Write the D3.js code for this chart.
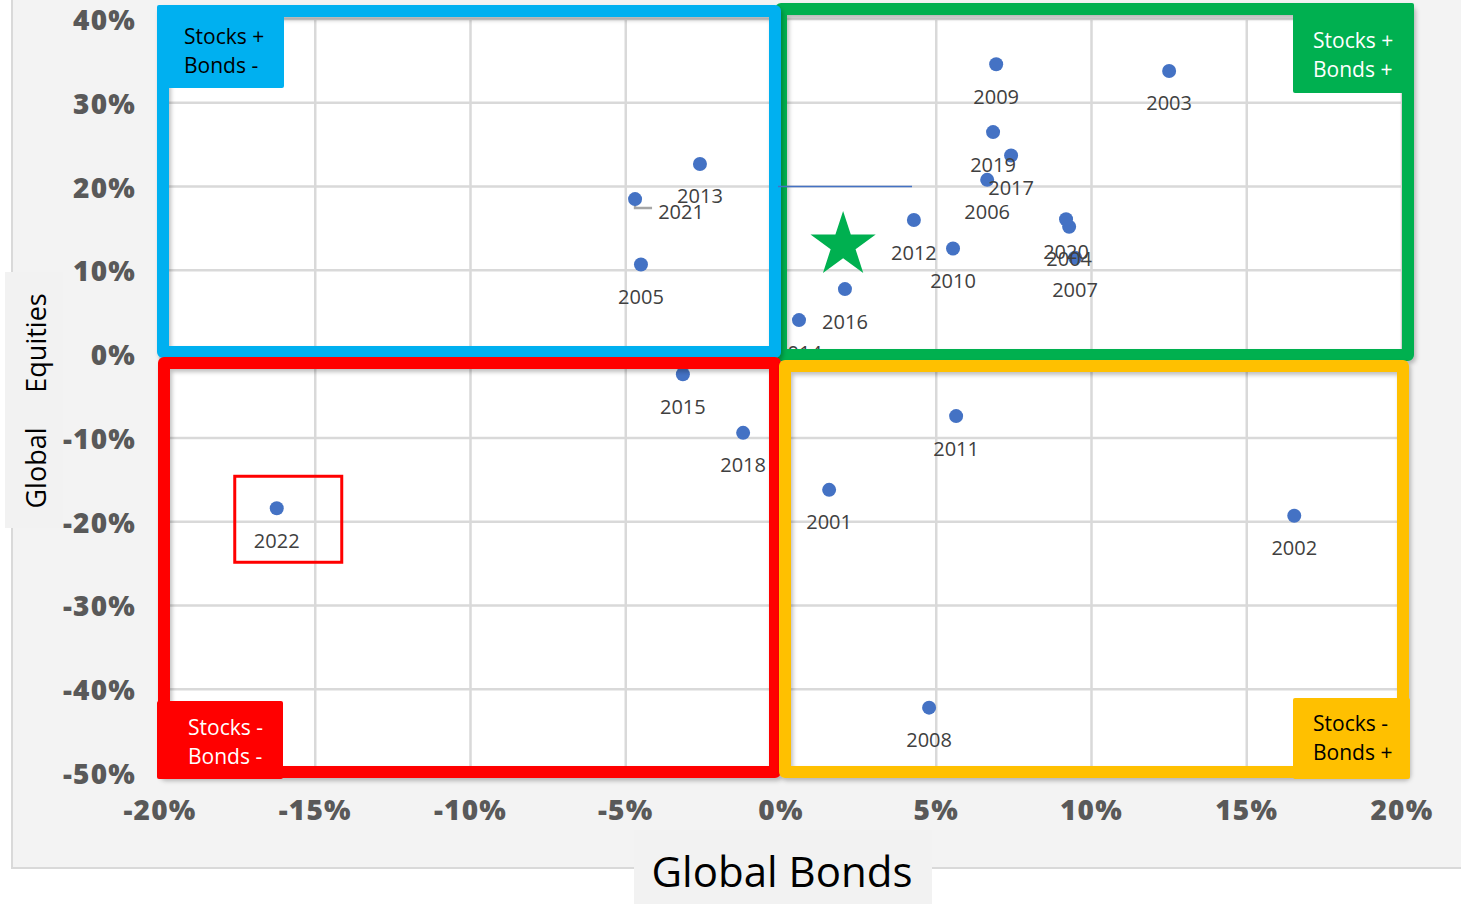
<!DOCTYPE html>
<html><head><meta charset="utf-8">
<script src="https://cdn.jsdelivr.net/npm/d3@7"></script>
<style>
html,body{margin:0;padding:0;background:#fff;}
svg{display:block;}
</style></head>
<body>
<svg id="chart" width="1461" height="904"></svg>
<script>
// ---- data ----
const years  = ["2001","2002","2003","2004","2005","2006","2007","2008","2009","2010","2011","2012","2013","2014","2015","2016","2017","2018","2019","2020","2021","2022"];
const bonds  = [ 1.55, 16.53, 12.50, 9.28,-4.51, 6.64, 9.47, 4.77, 6.93, 5.54, 5.64, 4.28,-2.61, 0.58,-3.16, 2.06, 7.41,-1.22, 6.83, 9.18,-4.70,-16.24];
const stocks = [-16.2,-19.3, 33.8, 15.2, 10.7, 20.8, 11.5,-42.2, 34.6, 12.6, -7.4, 16.0, 22.7, 4.06, -2.4, 7.76, 23.7, -9.4, 26.5, 16.1, 18.5,-18.4];
const xTicks = [-20,-15,-10,-5,0,5,10,15,20];
const yTicks = [40,30,20,10,0,-10,-20,-30,-40,-50];
const quadrantNames  = ["Stocks +\nBonds -","Stocks +\nBonds +","Stocks -\nBonds -","Stocks -\nBonds +"];
const quadrantColors = ["#00b0f0","#00b050","#ff0000","#ffc000"];
const quadrantText   = ["#000","#fff","#fff","#000"];
const starPoint = [2.0, 13.0];
const refLine = [[0,20],[4.22,20]];
const highlightYear = "2022";
const xTitle = "Global Bonds";
const yTitleWords = ["Global","Equities"];

// ---- layout ----
const svg = d3.select("#chart");
const x = d3.scaleLinear().domain([-20,20]).range([160,1402]);
const y = d3.scaleLinear().domain([-50,40]).range([773,19]);

// panel
svg.append("rect").attr("x",12).attr("y",-5).attr("width",1460).attr("height",873)
  .attr("fill","#f3f3f3").attr("stroke","#d9d9d9").attr("stroke-width",2);
// plot area
svg.append("rect").attr("x",x(-20)).attr("y",y(40)).attr("width",x(20)-x(-20)).attr("height",y(-50)-y(40)).attr("fill","#fff");

// grid
const g = svg.append("g");
g.selectAll(".vg").data(xTicks).join("line")
  .attr("x1",d=>x(d)).attr("x2",d=>x(d)).attr("y1",y(40)).attr("y2",y(-50))
  .attr("stroke","#d9d9d9").attr("stroke-width",2.5);
g.selectAll(".hg").data(yTicks).join("line")
  .attr("y1",d=>y(d)).attr("y2",d=>y(d)).attr("x1",x(-20)).attr("x2",x(20))
  .attr("stroke","#d9d9d9").attr("stroke-width",2.5);

// points
const pts = years.map((yr,i)=>({yr, b:bonds[i], s:stocks[i]}));
const labelFont = "'Open Sans', sans-serif";
// leader line for 2021
const p21 = pts.find(p=>p.yr==="2021");
svg.append("path")
  .attr("d",`M${x(p21.b)},${y(p21.s)} V${y(p21.s)+9} H${x(p21.b)+17}`)
  .attr("fill","none").attr("stroke","#a6a6a6").attr("stroke-width",2.5);

svg.append("g").selectAll("circle").data(pts).join("circle")
  .attr("cx",d=>x(d.b)).attr("cy",d=>y(d.s)).attr("r",7).attr("fill","#4472c4");

svg.append("g").selectAll("text").data(pts).join("text")
  .attr("x",d=>x(d.b) + (d.yr==="2021"?46:0))
  .attr("y",d=>y(d.s) + (d.yr==="2021"?12:32))
  .attr("text-anchor","middle").attr("dominant-baseline","central")
  .attr("font-family",labelFont).attr("font-size",20).attr("fill","#404040")
  .text(d=>d.yr);

// quadrant boxes
const quads = [
  {xd:[-20,0], yd:[40,0],  adj:[3,-6,-8,-2]},
  {xd:[0,20],  yd:[40,0],  adj:[0,6,-10,1]},
  {xd:[-20,0], yd:[0,-50], adj:[4,-6,9,-1]},
  {xd:[0,20],  yd:[0,-50], adj:[4,1,12,-1]}
];
const drawOrder = [1,0,2,3];
const defs = svg.append("defs");
const f = defs.append("filter").attr("id","sh").attr("x","-5%").attr("y","-5%").attr("width","110%").attr("height","110%");
f.append("feDropShadow").attr("dx",2).attr("dy",3).attr("stdDeviation",2).attr("flood-color","#000").attr("flood-opacity",0.25);

drawOrder.forEach(i=>{
  const q = quads[i];
  const x0 = x(q.xd[0])+q.adj[0], x1 = x(q.xd[1])+q.adj[1];
  const y0 = y(q.yd[0])+q.adj[2], y1 = y(q.yd[1])+q.adj[3];
  svg.append("rect").attr("x",x0).attr("y",y0).attr("width",x1-x0).attr("height",y1-y0)
    .attr("fill","none").attr("stroke",quadrantColors[i]).attr("stroke-width",12)
    .attr("stroke-linejoin","round").attr("filter","url(#sh)");
});

// quadrant label boxes
const lbl = [
  {x0:157, x1:284, y0:5,   y1:88,  tx:184, ty:[44,73]},
  {x0:1293,x1:1414,y0:3,   y1:93,  tx:1313,ty:[48,77]},
  {x0:157, x1:283, y0:701, y1:779, tx:188, ty:[735,764]},
  {x0:1293,x1:1410,y0:698, y1:779, tx:1313,ty:[731,760]}
];
lbl.forEach((L,i)=>{
  svg.append("rect").attr("x",L.x0).attr("y",L.y0).attr("width",L.x1-L.x0).attr("height",L.y1-L.y0)
    .attr("fill",quadrantColors[i]).attr("rx",2);
  quadrantNames[i].split("\n").forEach((line,k)=>{
    svg.append("text").attr("x",L.tx).attr("y",L.ty[k])
      .attr("font-family",labelFont).attr("font-size",21).attr("fill",quadrantText[i])
      .text(line);
  });
});

// reference line
svg.append("line").attr("x1",x(refLine[0][0])-3).attr("x2",x(refLine[1][0]))
  .attr("y1",y(refLine[0][1])).attr("y2",y(refLine[1][1]))
  .attr("stroke","#4472c4").attr("stroke-width",1.5);

// star
svg.append("path").attr("d",d3.symbol().type(d3.symbolStar).size(1320)())
  .attr("transform",`translate(${x(starPoint[0])},${y(starPoint[1])})`)
  .attr("fill","#00b050");

// highlight box for 2022
const ph = pts.find(p=>p.yr===highlightYear);
svg.append("rect").attr("x",x(ph.b)-42).attr("y",y(ph.s)-32).attr("width",107).attr("height",86)
  .attr("fill","none").attr("stroke","#ff0000").attr("stroke-width",3);

// axis tick labels
const tickFont = "'Open Sans', sans-serif";
svg.append("g").selectAll("text").data(yTicks).join("text")
  .attr("x",136).attr("y",d=>y(d)).attr("text-anchor","end").attr("dominant-baseline","central")
  .attr("font-family",tickFont).attr("font-weight","800").attr("font-size",28).attr("letter-spacing",1.2)
  .attr("fill","#595959").text(d=>d+"%");
svg.append("g").selectAll("text").data(xTicks).join("text")
  .attr("x",d=>x(d)).attr("y",809).attr("text-anchor","middle").attr("dominant-baseline","central")
  .attr("font-family",tickFont).attr("font-weight","800").attr("font-size",28).attr("letter-spacing",1.2)
  .attr("fill","#595959").text(d=>d+"%");

// axis titles
svg.append("rect").attr("x",634).attr("y",830).attr("width",298).attr("height",80).attr("fill","#f2f2f2");
svg.append("text").attr("x",782).attr("y",870).attr("text-anchor","middle").attr("dominant-baseline","central")
  .attr("font-family",labelFont).attr("font-size",42).attr("fill","#000").text(xTitle);

svg.append("rect").attr("x",5).attr("y",272).attr("width",58).attr("height",256).attr("fill","#f2f2f2");
const yt = svg.append("g").attr("transform","translate(35,400) rotate(-90)");
yt.append("text").attr("x",-68).attr("y",0).attr("text-anchor","middle").attr("dominant-baseline","central")
  .attr("font-family",labelFont).attr("font-size",27).attr("fill","#000").text(yTitleWords[0]);
yt.append("text").attr("x",57).attr("y",0).attr("text-anchor","middle").attr("dominant-baseline","central")
  .attr("font-family",labelFont).attr("font-size",27).attr("fill","#000").text(yTitleWords[1]);
</script>
</body></html>
